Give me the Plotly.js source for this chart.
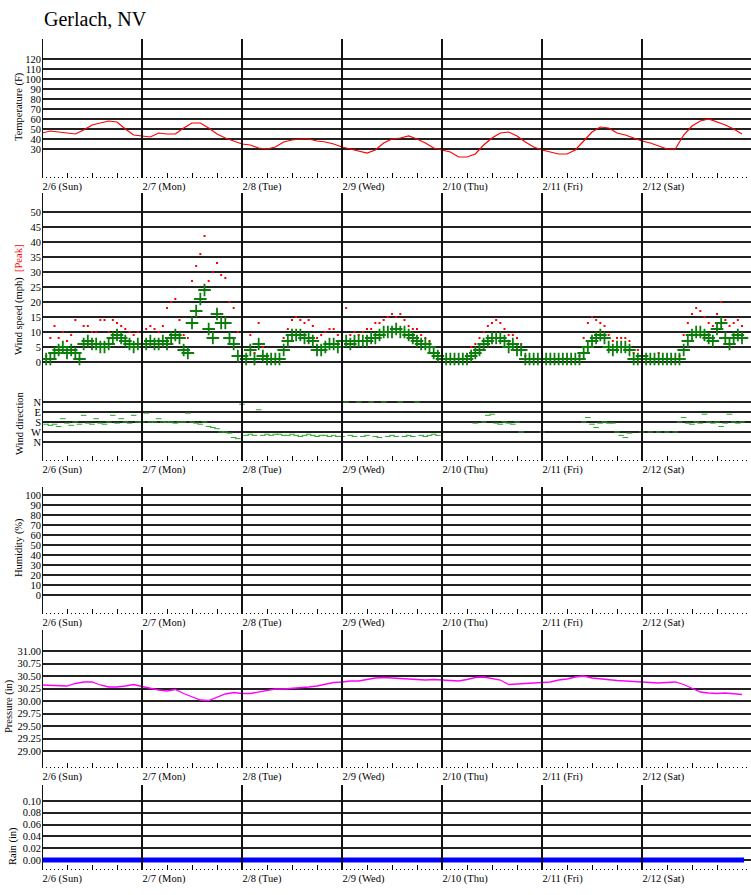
<!DOCTYPE html>
<html><head><meta charset="utf-8">
<script src="https://cdn.plot.ly/plotly-3.0.1.min.js"></script>
<style>html,body{margin:0;padding:0;background:#fff}#chart{width:751px;height:895px}</style>
</head><body><div id="chart"></div>
<script>
// ---- data ----
const dayLabels = ['2/6 (Sun)','2/7 (Mon)','2/8 (Tue)','2/9 (Wed)','2/10 (Thu)','2/11 (Fri)','2/12 (Sat)'];

// temperature (F), every 2 hours from 2/6 00:00
const tempF = [46,48,47,46,45,49,54,56,58,57,50,44,
  43,42,46,45,45,51,56,56,51,45,41,38,
  35,34,31,30,32,37,39,40,40,38,37,35,
  32,30,28,26,29,36,40,41,43,40,36,31,
  29,27,22,22,25,34,41,46,47,43,37,32,
  29,27,25,25,29,38,47,52,51,46,44,41,
  38,36,33,30,30,44,53,58,60,57,54,50,
  45];

// wind speed (mph), hourly
const windAvg = [1,1,1,3,4,5,3,4,3,1,6,7,6,6,5,5,6,8,9,8,7,6,5,6,
  6,6,7,6,6,7,6,8,9,8,4,3,13,17,21,24,11,8,16,13,13,8,6,2,
  2,1,4,1,6,2,1,1,1,1,4,7,9,9,9,8,8,7,4,4,5,6,6,5,
  7,7,6,7,7,7,7,8,8,9,10,10,10,11,10,10,9,8,7,6,6,5,3,2,
  1,1,1,1,1,1,1,2,3,4,6,7,8,8,8,7,5,6,4,4,1,1,1,1,
  1,1,1,1,1,1,1,1,1,1,3,5,7,8,9,8,5,4,5,5,5,4,1,1,
  2,1,1,1,1,1,1,1,1,1,4,7,9,10,10,9,8,7,11,13,8,6,8,9,
  8];
// peak wind (mph), hourly
const windPeak = [1,2,8,12,8,10,7,9,14,3,12,12,10,10,14,14,10,14,13,12,11,10,9,10,
  10,11,12,11,10,12,18,20,21,14,9,8,27,32,36,42,27,30,33,29,28,20,18,10,
  8,4,9,3,13,5,1,1,1,1,8,11,14,15,14,13,14,12,8,9,10,11,11,9,
  10,18,9,10,9,10,11,11,13,13,14,15,16,15,16,14,12,11,11,9,8,7,5,3,
  1,1,1,1,1,1,2,5,6,8,10,12,13,14,13,11,9,9,8,6,2,1,1,1,
  1,1,1,1,1,1,1,1,1,2,8,13,15,14,13,12,9,7,8,8,8,7,3,4,
  4,1,1,1,3,1,1,1,1,2,9,13,16,18,17,15,13,12,16,20,14,12,13,14,
  12];
// wind direction (degrees), hourly
const windDir = [null,200,210,200,220,150,190,210,180,200,120,190,200,150,190,200,180,120,190,150,180,190,120,180,
  180,100,180,180,150,180,180,180,190,180,180,100,180,190,200,180,220,230,240,270,270,280,320,330,
  20,300,290,300,70,300,290,300,290,290,300,300,290,300,310,300,290,300,310,300,300,310,300,310,
  310,0,300,310,0,310,300,0,310,320,0,310,300,310,0,310,300,310,0,300,310,300,290,300,
  null,null,null,null,null,null,null,null,190,null,180,120,110,190,200,180,190,200,180,270,null,null,null,null,
  270,null,null,null,null,null,null,null,null,null,180,140,200,230,190,180,190,190,270,300,320,280,null,null,
  270,null,270,null,270,null,270,null,270,180,140,190,200,180,190,110,180,190,180,220,190,110,180,190,
  180];

// pressure (in), every 2 hours
const pressureIn = [30.32,30.31,30.30,30.30,30.35,30.38,30.38,30.32,30.28,30.28,30.30,30.33,
  30.29,30.25,30.22,30.20,30.23,30.15,30.08,30.02,30.01,30.08,30.14,30.17,
  30.15,30.15,30.18,30.22,30.24,30.24,30.25,30.26,30.28,30.30,30.34,30.37,
  30.38,30.40,30.40,30.43,30.46,30.47,30.46,30.45,30.44,30.43,30.42,30.43,
  30.42,30.41,30.40,30.43,30.47,30.48,30.45,30.42,30.33,30.34,30.36,30.37,
  30.38,30.38,30.42,30.44,30.48,30.50,30.46,30.44,30.42,30.41,30.40,30.39,
  30.38,30.37,30.36,30.37,30.38,30.33,30.25,30.18,30.16,30.15,30.16,30.14,
  30.13];

// rain (in)
const rainIn = [0, 0];
const rainHours = [0, 168.5];

const tempTicks = [30,40,50,60,70,80,90,100,110,120];
const windTicks = [0,5,10,15,20,25,30,35,40,45,50];
const dirTicks = [0,90,180,270,360];
const dirLabels = ['N','E','S','W','N'];
const humTicks = [0,10,20,30,40,50,60,70,80,90,100];
const presTicks = [29.00,29.25,29.50,29.75,30.00,30.25,30.50,30.75,31.00];
const rainTicks = [0,0.02,0.04,0.06,0.08,0.10];

// ---- helpers ----
const pad = n => String(n).padStart(2,'0');
function hourStr(h){
  const d = new Date(Date.UTC(2022,1,6) + Math.round(h*3600000));
  return d.getUTCFullYear()+'-'+pad(d.getUTCMonth()+1)+'-'+pad(d.getUTCDate())+' '+
    pad(d.getUTCHours())+':'+pad(d.getUTCMinutes())+':'+pad(d.getUTCSeconds());
}
const H = 895, PX_L = 42, PW = 709;
const py = px => 1 - px/H;
const pxX = px => (px - PX_L)/PW;

const tempX = tempF.map((_, i) => hourStr(i*2));
const presX = pressureIn.map((_, i) => hourStr(i*2));
const windX = windAvg.map((_, i) => hourStr(i));
const rainX = rainHours.map(hourStr);

const xRange = [hourStr(0), hourStr(7.09*24)];
const tickvals = [], ticktext = [];
dayLabels.forEach((lab, i) => [0,6,12,18].forEach(o => { tickvals.push(hourStr(i*24+o)); ticktext.push(o===0 ? lab : ''); }));

const serif = 'serif';
const tickFont = {family: serif, size: 10.5, color: '#000'};

function xAx(anchor){
  return {type:'date', range:xRange, anchor, matches: anchor==='y' ? undefined : 'x',
    showgrid:false, zeroline:false, showline:false,
    tickmode:'array', tickvals, ticktext, ticks:'inside', ticklen:5, tickwidth:1, tickcolor:'#000',
    ticklabelposition:'outside right', tickfont:tickFont,
    minor:{dtick:3600000, tick0:hourStr(0), ticks:'inside', ticklen:1, tickwidth:1, tickcolor:'#000', showgrid:false},
    fixedrange:true};
}
function yAx(pxTop, pxBot, range, vals, text, anchor){
  return {domain:[py(pxBot), py(pxTop)], range, anchor, tickmode:'array', tickvals:vals, ticktext:text,
    showgrid:true, gridcolor:'#222', gridwidth:2, zeroline:false, showline:false, ticks:'',
    tickfont:tickFont, fixedrange:true};
}

// panels in pixel rows
const panels = [[39,178],[193,461],[487,614],[630,768],[785,870]];

const traces = [
  {x:tempX, y:tempF, xaxis:'x', yaxis:'y', mode:'lines', line:{color:'#ff0000', width:1.2}, hoverinfo:'skip'},
  {x:windX, y:windPeak, xaxis:'x2', yaxis:'y2', mode:'markers', marker:{symbol:'square', size:2, color:'#ff0000', line:{width:0}}, hoverinfo:'skip'},
  {x:windX, y:windAvg, xaxis:'x2', yaxis:'y2', mode:'markers', marker:{symbol:'cross-thin', size:9, color:'#0b7d0b', line:{color:'#0b7d0b', width:1.8}}, hoverinfo:'skip'},
  {x:windX, y:windDir, xaxis:'x2', yaxis:'y3', mode:'markers', marker:{symbol:'line-ew', size:4, color:'#2aa52a', line:{color:'#2aa52a', width:1}}, hoverinfo:'skip'},
  {x:[], y:[], xaxis:'x3', yaxis:'y4', mode:'lines', hoverinfo:'skip'},
  {x:presX, y:pressureIn, xaxis:'x4', yaxis:'y5', mode:'lines', line:{color:'#ff00ff', width:1.3}, hoverinfo:'skip'},
  {x:rainX, y:rainIn, xaxis:'x5', yaxis:'y6', mode:'lines', line:{color:'#0000ff', width:5}, hoverinfo:'skip'}
];

const shapes = [];
panels.forEach(([t,b]) => {
  dayLabels.forEach((_, i) => {
    shapes.push({type:'line', xref:'x', yref:'paper', x0:hourStr(i*24), x1:hourStr(i*24), y0:py(b), y1:py(t),
      line:{color:'#111', width:2}, layer:'above'});
  });
});

function yTitle(text, pxX0, pxY){
  return {text, xref:'paper', yref:'paper', x:pxX(pxX0), y:py(pxY), xanchor:'center', yanchor:'middle',
    textangle:-90, showarrow:false, font:{family:serif, size:10.5, color:'#000'}};
}

const layout = {
  width:751, height:895, margin:{l:42, r:0, t:0, b:0, pad:0},
  paper_bgcolor:'#fff', plot_bgcolor:'rgba(0,0,0,0)', showlegend:false,
  font:{family:'serif'},
  xaxis: xAx('y'),
  xaxis2: xAx('y3'),
  xaxis3: xAx('y4'),
  xaxis4: xAx('y5'),
  xaxis5: xAx('y6'),
  yaxis: yAx(39,178,[1,140],tempTicks,tempTicks.map(String),'x'),
  yaxis2: yAx(193,380,[-6,56.33],windTicks,windTicks.map(String),'x2'),
  yaxis3: Object.assign(yAx(380,461,[531,-198],dirTicks,dirLabels,'x2'), {tickfont:{family:serif,size:10.5,color:'#000'}}),
  yaxis4: yAx(487,614,[-19,108],humTicks,humTicks.map(String),'x3'),
  yaxis5: yAx(630,768,[28.66,31.42],presTicks,presTicks.map(v=>v.toFixed(2)),'x4'),
  yaxis6: yAx(785,870,[-0.01695,0.1271],rainTicks,rainTicks.map(v=>v.toFixed(2)),'x5'),
  shapes,
  annotations:[
    {text:'Gerlach, NV', xref:'paper', yref:'paper', x:0, y:py(19), xanchor:'left', yanchor:'middle', showarrow:false,
      font:{family:'serif', size:20, color:'#000'}},
    yTitle('Temperature (F)', 19, 107),
    yTitle('Wind speed (mph)  <span style="color:#ff0000">[Peak]</span>', 19, 300),
    yTitle('Wind direction', 19, 423),
    yTitle('Humidity (%)', 19, 548),
    yTitle('Pressure (in)', 9, 706),
    yTitle('Rain (in)', 13, 846)
  ]
};

Plotly.newPlot('chart', traces, layout, {displayModeBar:false, staticPlot:true});
</script>
</body></html>
